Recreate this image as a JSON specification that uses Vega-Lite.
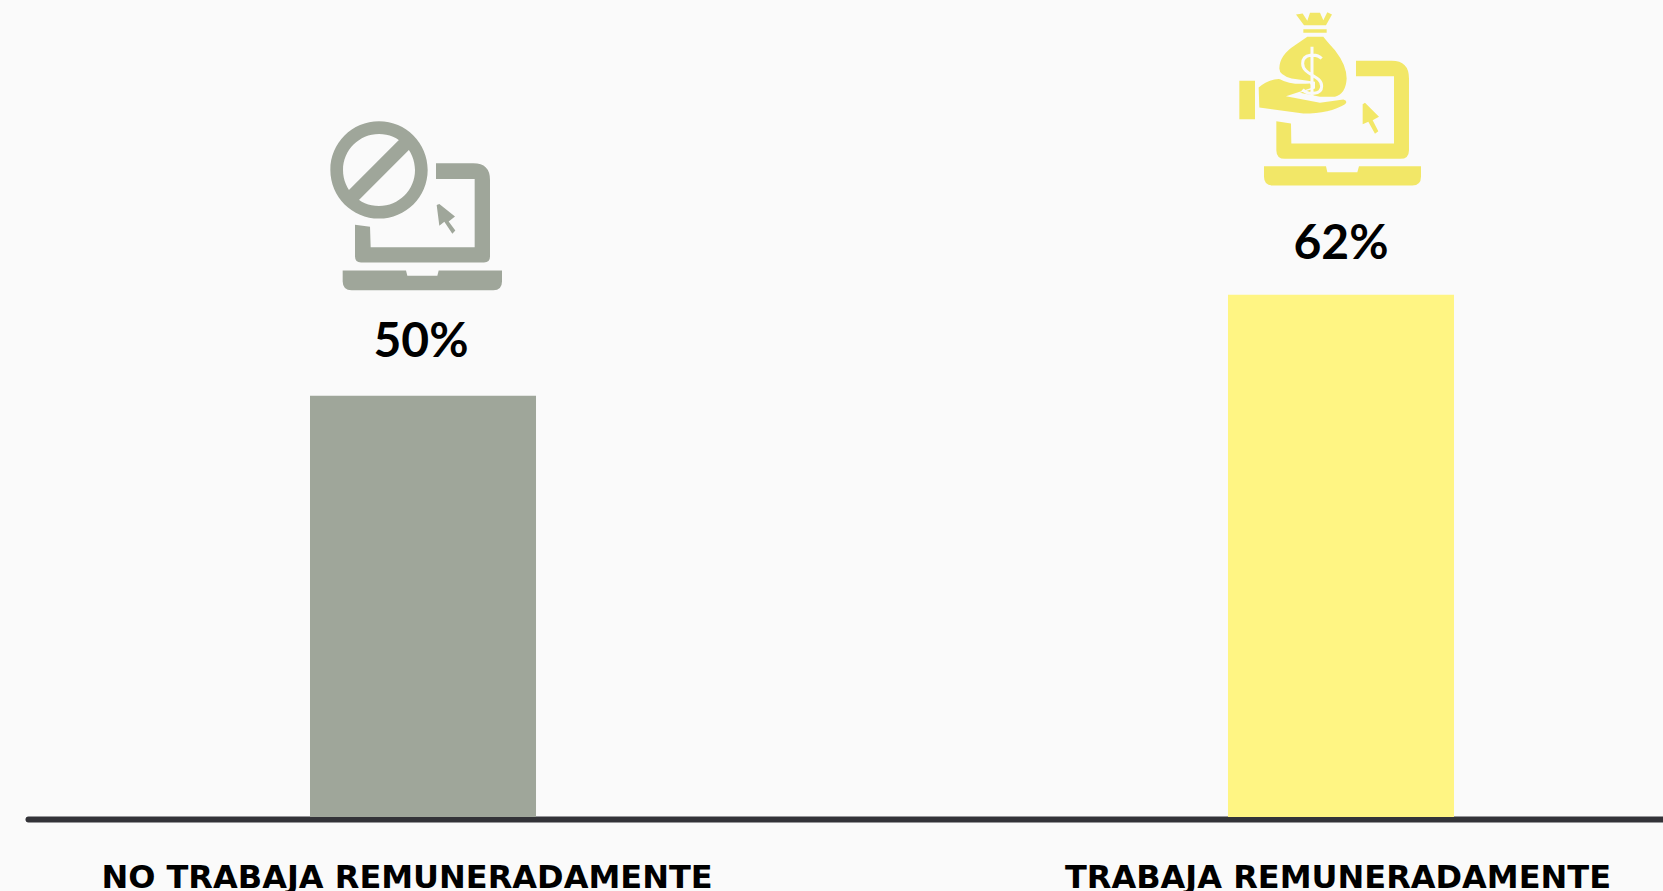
{"$schema":"https://vega.github.io/schema/vega-lite/v6.json","width":1663,"height":891,"padding":0,"autosize":{"type":"none"},"background":"#fafafa","config":{"view":{"stroke":null},"font":"Lato"},"data":{"values":[{"categoria":"NO TRABAJA REMUNERADAMENTE","porcentaje":50,"etiqueta":"50%"},{"categoria":"TRABAJA REMUNERADAMENTE","porcentaje":62,"etiqueta":"62%"}]},"encoding":{"x":{"field":"categoria","type":"nominal","sort":null,"scale":{"type":"band","domain":["NO TRABAJA REMUNERADAMENTE","TRABAJA REMUNERADAMENTE"],"range":[28,1736],"paddingInner":0.7538,"paddingOuter":0.3072},"axis":{"title":null,"orient":"bottom","offset":-72,"labelAngle":0,"labelAlign":"center","labelBaseline":"alphabetic","labelPadding":68,"labelFont":"DejaVu Sans","labelFontWeight":"bold","labelFontSize":32,"labelLimit":0,"labelColor":"#000000","labelOffset":{"expr":"datum.value==='NO TRABAJA REMUNERADAMENTE'?-16:-3"},"ticks":false,"grid":false,"domainColor":"#333338","domainWidth":6,"domainCap":"round"}},"y":{"field":"porcentaje","type":"quantitative","scale":{"domain":[0,97],"range":[817,0],"nice":false,"zero":true},"axis":null}},"resolve":{"scale":{"color":"independent"}},"layer":[{"mark":{"type":"bar","width":226},"encoding":{"color":{"field":"categoria","type":"nominal","legend":null,"scale":{"domain":["NO TRABAJA REMUNERADAMENTE","TRABAJA REMUNERADAMENTE"],"range":["#9fa69a","#fff583"]}}}},{"mark":{"type":"point","filled":true,"size":0.4444,"opacity":1,"strokeWidth":0},"encoding":{"color":{"field":"categoria","type":"nominal","legend":null,"scale":{"domain":["NO TRABAJA REMUNERADAMENTE","TRABAJA REMUNERADAMENTE"],"range":["#9fa69a","#f2e767"]}},"shape":{"field":"categoria","type":"nominal","legend":null,"scale":{"domain":["NO TRABAJA REMUNERADAMENTE","TRABAJA REMUNERADAMENTE"],"range":["M-278 -678A146 146 0 1 1 14 -678A146 146 0 1 1 -278 -678ZM-240 -678A108 108 0 1 0 -24 -678A108 108 0 1 0 -240 -678ZM-59 -781L-29 -751L-205 -575L-235 -605ZM39 -698L151 -698Q201 -698 201 -648L201 -418Q201 -400 183 -400L-186 -400Q-204 -400 -204 -418L-204 -513L-159 -507L-157 -446L155 -446L155 -651L39 -651ZM-241 -376L-51 -376L-47 -360L43 -360L47 -376L237 -376L237 -343Q237 -317 211 -317L-214 -317Q-241 -317 -241 -343ZM41 -573L49 -576L96 -538L77 -523L97 -496L88 -486L64 -522L49 -510Z","M45 -702L152 -702Q204 -702 204 -649L204 -434Q204 -408 178 -408L-168 -408Q-194 -408 -194 -434L-194 -521L-150 -514L-149 -454L159 -454L159 -656L45 -656ZM-231 -386L-45 -386L-41 -368L49 -368L54 -386L240 -386L240 -354Q240 -328 214 -328L-205 -328Q-231 -328 -231 -354ZM65 -572L72 -576L114 -534L95 -524L112 -491L102 -483L82 -519L65 -512ZM-305 -642L-258 -642L-258 -527L-305 -527ZM-247 -622Q-213 -649 -183 -647Q-153 -629 -93 -634L-85 -622L-165 -596L-63 -576L7 -586Q22 -581 12 -572Q-33 -544 -113 -544L-245 -562ZM-113 -797L-43 -797L-43 -786L-113 -786ZM-135 -841L-115 -844L-101 -822L-93 -846L-63 -846L-53 -824L-41 -848L-27 -841L-45 -809L-111 -809ZM-101 -774L-53 -774Q-33 -749 -18 -734Q17 -689 17 -649Q15 -604 -18 -594L-63 -594L-123 -606L-78 -619L-78 -639L-148 -649Q-185 -659 -185 -679Q-185 -719 -138 -749Z"]}}}},{"transform":[{"filter":"datum.porcentaje===62"}],"mark":{"type":"point","filled":false,"size":0.4444,"opacity":1,"strokeWidth":3,"color":"#fafafa","shape":"M-58 -709C-73 -724 -115 -724 -115 -694C-115 -659 -58 -659 -58 -626C-58 -599 -101 -599 -115 -616M-87 -744L-87 -594"}},{"transform":[{"filter":"datum.porcentaje===50"}],"mark":{"type":"text","font":"Lato","fontWeight":"bold","fontSize":48,"baseline":"alphabetic","align":"center","dy":-39,"dx":-2,"color":"#000000"},"encoding":{"text":{"field":"etiqueta","type":"nominal"}}},{"transform":[{"filter":"datum.porcentaje===62"}],"mark":{"type":"text","font":"Lato","fontWeight":"bold","fontSize":48,"baseline":"alphabetic","align":"center","dy":-36,"color":"#000000"},"encoding":{"text":{"field":"etiqueta","type":"nominal"}}}]}
